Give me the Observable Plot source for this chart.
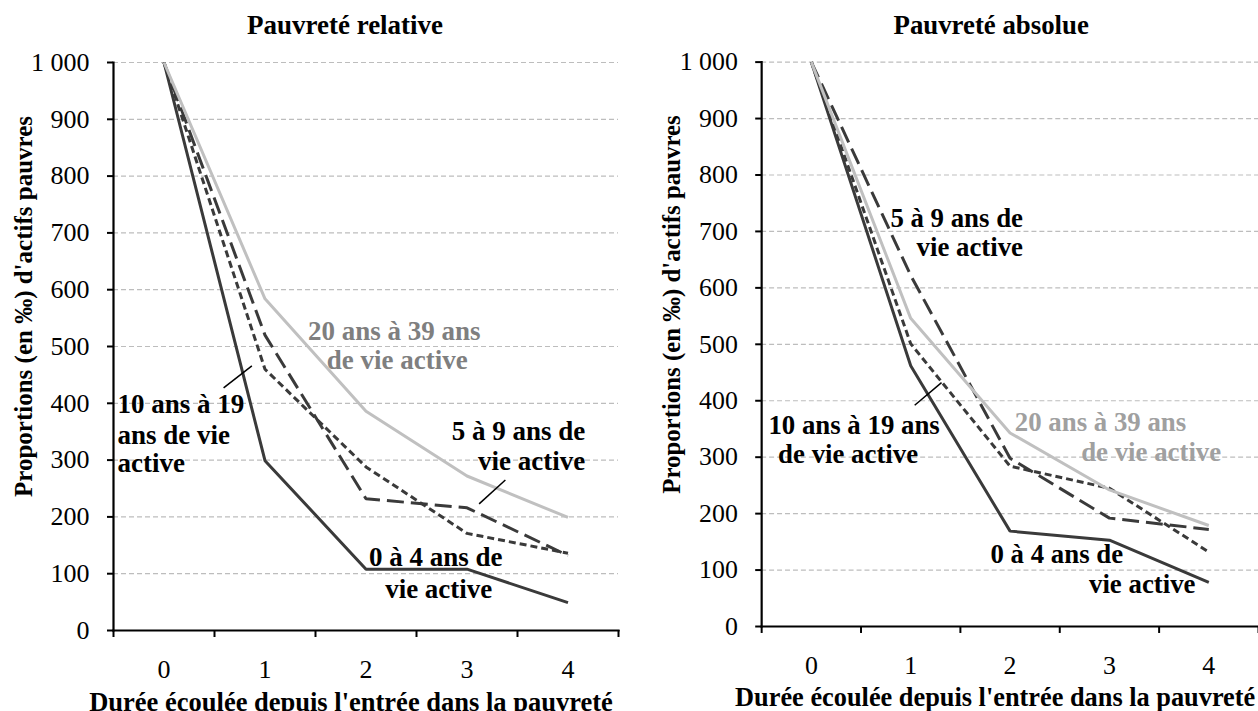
<!DOCTYPE html>
<html><head><meta charset="utf-8">
<script src="https://cdn.jsdelivr.net/npm/d3@7"></script>
<script src="https://cdn.jsdelivr.net/npm/@observablehq/plot@0.6"></script>
<style>
body{margin:0;background:#fff;}
#wrap{width:1258px;height:711px;overflow:hidden;position:relative;background:#fff;}
#left{position:absolute;left:0;top:0;}
#right{position:absolute;left:629px;top:0;}
</style></head><body><div id="wrap"><div id="left"></div><div id="right"></div></div>
<script>
// ---- data ----
const periods = [0, 1, 2, 3, 4];
const yTicks = [0, 100, 200, 300, 400, 500, 600, 700, 800, 900, 1000];
const seriesKeys = ["0-4", "5-9", "10-19", "20-39"];

// Pauvreté relative
const relative_0_4   = [1000, 299, 108, 108, 49];
const relative_5_9   = [1000, 520, 232, 216, 132];
const relative_10_19 = [1000, 460, 288, 171, 136];
const relative_20_39 = [1000, 584, 386, 272, 199];

// Pauvreté absolue
const absolute_0_4   = [1000, 462, 169, 153, 78];
const absolute_5_9   = [1000, 622, 298, 192, 172];
const absolute_10_19 = [1000, 501, 284, 245, 132];
const absolute_20_39 = [1000, 546, 343, 242, 179];

const titles = ["Pauvreté relative", "Pauvreté absolue"];
const xTitle = "Durée écoulée depuis l'entrée dans la pauvreté";
const yTitle = "Proportions (en ‰) d'actifs pauvres";

// annotation lines (anchor points in data units)
const labelsRelative = [
  {key: "20-39", text: "20 ans à 39 ans", x: 2.28, y: 527, anchor: "middle"},
  {key: "20-39", text: "de vie active",   x: 2.31, y: 476, anchor: "middle"},
  {key: "10-19", text: "10 ans à 19",     x: -0.46, y: 398, anchor: "start"},
  {key: "10-19", text: "ans de vie",      x: -0.46, y: 344, anchor: "start"},
  {key: "10-19", text: "active",          x: -0.46, y: 294, anchor: "start"},
  {key: "5-9",   text: "5 à 9 ans de",    x: 4.17, y: 350, anchor: "end"},
  {key: "5-9",   text: "vie active",      x: 4.17, y: 297, anchor: "end"},
  {key: "0-4",   text: "0 à 4 ans de",    x: 2.69, y: 128, anchor: "middle"},
  {key: "0-4",   text: "vie active",      x: 2.72, y: 73,  anchor: "middle"}
];
const leadersRelative = [
  {x1: 0.59, y1: 427, x2: 0.87, y2: 466},
  {x1: 3.12, y1: 223, x2: 3.38, y2: 265}
];
const labelsAbsolute = [
  {key: "5-9",   text: "5 à 9 ans de",    x: 2.13, y: 723, anchor: "end"},
  {key: "5-9",   text: "vie active",      x: 2.13, y: 671, anchor: "end"},
  {key: "10-19", text: "10 ans à 19 ans", x: 0.43, y: 357, anchor: "middle"},
  {key: "10-19", text: "de vie active",   x: 0.37, y: 305, anchor: "middle"},
  {key: "20-39", text: "20 ans à 39 ans", x: 2.91, y: 362, anchor: "middle"},
  {key: "20-39", text: "de vie active",   x: 3.42, y: 308, anchor: "middle"},
  {key: "0-4",   text: "0 à 4 ans de",    x: 2.47, y: 127, anchor: "middle"},
  {key: "0-4",   text: "vie active",      x: 3.33, y: 75,  anchor: "middle"}
];
const leadersAbsolute = [
  {x1: 1.04, y1: 392, x2: 1.31, y2: 432}
];

// ---- styles ----
const lineStyle = {
  "0-4":   {stroke: "#3a3a3a", dash: null},
  "5-9":   {stroke: "#3a3a3a", dash: "17,7"},
  "10-19": {stroke: "#3a3a3a", dash: "7,4"},
  "20-39": {stroke: "#c0c0c0", dash: null}
};
const labelColorRel = {"0-4": "#000", "5-9": "#000", "10-19": "#000", "20-39": "#7f7f7f"};
const labelColorAbs = {"0-4": "#000", "5-9": "#000", "10-19": "#000", "20-39": "#a0a0a0"};

const fr = d3.formatLocale({decimal: ",", thousands: "\u00a0", grouping: [3], currency: ["", ""]});
const fmt = fr.format(",");
const bounds = periods.map(p => p - 0.5).concat([periods[periods.length - 1] + 0.5]);
const FONT = "Liberation Serif";

function chart({title, series, labels, leaders, labelColor, width, marginLeft, marginRight, titleDx, xLabelDx}) {
  const lineMarks = seriesKeys.map((k, si) => {
    const rows = periods.map((p, i) => ({period: p, value: series[si][i]}));
    const st = lineStyle[k];
    return Plot.line(rows, {x: "period", y: "value", stroke: st.stroke, strokeWidth: 3,
      strokeDasharray: st.dash ?? undefined, strokeLinejoin: "miter", strokeLinecap: "butt"});
  });
  const textMarks = ["start", "middle", "end"].map(a =>
    Plot.text(labels.filter(d => d.anchor === a), {x: "x", y: "y", text: "text", textAnchor: a,
      fill: d => labelColor[d.key], fontWeight: "bold", fontSize: 27, lineAnchor: "middle", fontFamily: FONT}));
  return Plot.plot({
    width, height: 711, marginTop: 62, marginBottom: 81, marginLeft, marginRight,
    style: {fontFamily: FONT, fontSize: "26px", color: "#000", background: "#fff", overflow: "visible"},
    x: {domain: [bounds[0], bounds[bounds.length - 1]]},
    y: {domain: [0, 1000]},
    marks: [
      Plot.gridY(yTicks.filter(d => d > 0), {stroke: "#bdbdbd", strokeOpacity: 1, strokeDasharray: "5,3", strokeWidth: 1.2}),
      ...lineMarks,
      Plot.link(leaders, {x1: "x1", y1: "y1", x2: "x2", y2: "y2", stroke: "#000", strokeWidth: 1.5}),
      ...textMarks,
      Plot.axisY(yTicks, {tickSize: 6, tickPadding: 18, tickFormat: fmt, label: null, fontSize: 26, strokeWidth: 2, fontFamily: FONT}),
      Plot.axisX(bounds, {tickSize: 7, tickFormat: () => "", label: null, strokeWidth: 2}),
      Plot.axisX(periods, {tickSize: 0, tickPadding: 29, label: null, fontSize: 26, fontFamily: FONT}),
      Plot.frame({anchor: "left", stroke: "#000", strokeWidth: 2.2}),
      Plot.frame({anchor: "bottom", stroke: "#000", strokeWidth: 2.2}),
      Plot.text([yTitle], {frameAnchor: "left", rotate: -90, dx: -90, dy: -40, textAnchor: "middle", fontWeight: "bold", fontSize: 25, lineAnchor: "middle", fontFamily: FONT}),
      Plot.text([xTitle], {frameAnchor: "bottom", dx: xLabelDx, dy: 72, textAnchor: "middle", fontWeight: "bold", fontSize: 26.5, lineAnchor: "middle", fontFamily: FONT}),
      Plot.text([title], {frameAnchor: "top", dx: titleDx, dy: -37, textAnchor: "middle", fontWeight: "bold", fontSize: 27, lineAnchor: "middle", fontFamily: FONT})
    ]
  });
}

document.getElementById("left").append(chart({
  title: titles[0],
  series: [relative_0_4, relative_5_9, relative_10_19, relative_20_39],
  labels: labelsRelative, leaders: leadersRelative, labelColor: labelColorRel,
  width: 629, marginLeft: 113, marginRight: 11, titleDx: -21, xLabelDx: -15
}));
document.getElementById("right").append(chart({
  title: titles[1],
  series: [absolute_0_4, absolute_5_9, absolute_10_19, absolute_20_39],
  labels: labelsAbsolute, leaders: leadersAbsolute, labelColor: labelColorAbs,
  width: 633, marginLeft: 133, marginRight: 0, titleDx: -19, xLabelDx: -15
}));
</script></body></html>
